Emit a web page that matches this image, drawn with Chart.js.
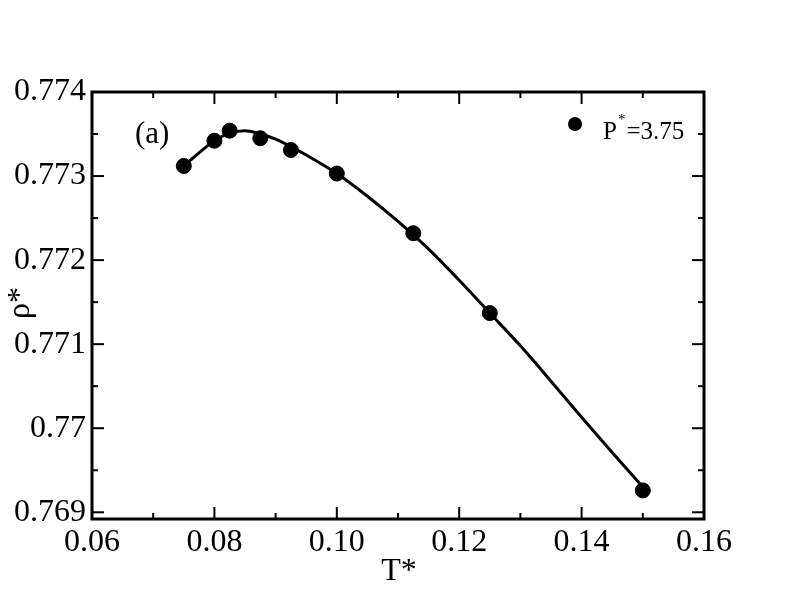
<!DOCTYPE html>
<html><head><meta charset="utf-8">
<script src="https://cdn.jsdelivr.net/npm/chart.js@4/dist/chart.umd.min.js"></script>
<style>html,body{margin:0;padding:0;background:#fff}#wrap{width:792px;height:612px}</style>
</head><body><div id="wrap"><canvas id="c" width="792" height="612"></canvas></div>
<script>
// Simulation points (T*, rho*)
const temperature = [0.075, 0.080, 0.0825, 0.0875, 0.0925, 0.100, 0.1125, 0.125, 0.150];
const density     = [0.77312, 0.77342, 0.77354, 0.77345, 0.77331, 0.77303, 0.77232, 0.77137, 0.76926];
// Fit curve
const fitT   = [0.075, 0.080, 0.0825, 0.085, 0.0875, 0.090, 0.0925, 0.095, 0.100, 0.105, 0.110, 0.115, 0.120, 0.125, 0.130, 0.135, 0.140, 0.145, 0.150];
const fitRho = [0.77312, 0.77342, 0.77351, 0.77354, 0.77350, 0.77344, 0.77335, 0.77325, 0.77303, 0.77276, 0.77246, 0.77213, 0.77176, 0.77137, 0.77098, 0.77056, 0.77013, 0.76971, 0.76930];
// Axes
const xTicks = [0.06, 0.08, 0.10, 0.12, 0.14, 0.16];
const xTickLabels = ["0.06", "0.08", "0.10", "0.12", "0.14", "0.16"];
const xMinor = [0.07, 0.09, 0.11, 0.13, 0.15];
const yTicks = [0.769, 0.770, 0.771, 0.772, 0.773, 0.774];
const yTickLabels = ["0.769", "0.77", "0.771", "0.772", "0.773", "0.774"];
const yMinor = [0.7695, 0.7705, 0.7715, 0.7725, 0.7735];
const xRange = [0.06, 0.16];
const yRange = [0.76892, 0.774];
const seriesLabel = ["P", "*", "=3.75"];
const panelLabel = "(a)";
const xTitle = "T*";
const yTitle = "ρ*";

const SERIF = '"Liberation Serif","DejaVu Serif",serif';

const framePlugin = {
  id: 'frame',
  afterDatasetsDraw(chart) {
    const {ctx, chartArea: a, scales: {x, y}} = chart;
    ctx.save();
    ctx.strokeStyle = '#000';
    ctx.lineWidth = 2;
    const tick = (val, len, axis) => {
      if (axis === 'x') {
        const px = x.getPixelForValue(val);
        ctx.beginPath(); ctx.moveTo(px, a.bottom); ctx.lineTo(px, a.bottom - len); ctx.stroke();
        ctx.beginPath(); ctx.moveTo(px, a.top); ctx.lineTo(px, a.top + len); ctx.stroke();
      } else {
        const py = y.getPixelForValue(val);
        ctx.beginPath(); ctx.moveTo(a.left, py); ctx.lineTo(a.left + len, py); ctx.stroke();
        ctx.beginPath(); ctx.moveTo(a.right, py); ctx.lineTo(a.right - len, py); ctx.stroke();
      }
    };
    xTicks.forEach(v => tick(v, 12, 'x'));
    xMinor.forEach(v => tick(v, 6, 'x'));
    yTicks.forEach(v => tick(v, 12, 'y'));
    yMinor.forEach(v => tick(v, 6, 'y'));
    ctx.lineWidth = 3;
    ctx.strokeRect(a.left, a.top, a.right - a.left, a.bottom - a.top);

    ctx.fillStyle = '#000';
    // panel label
    ctx.font = '31px ' + SERIF;
    ctx.textAlign = 'left'; ctx.textBaseline = 'alphabetic';
    ctx.fillText(panelLabel, 135, 143);
    // legend
    ctx.beginPath(); ctx.arc(575, 124, 7, 0, Math.PI * 2); ctx.fill();
    ctx.font = '25px ' + SERIF;
    ctx.fillText(seriesLabel[0], 603, 139);
    let w = ctx.measureText(seriesLabel[0]).width;
    ctx.font = '15px ' + SERIF;
    ctx.fillText(seriesLabel[1], 603 + w + 1, 124);
    const w2 = ctx.measureText(seriesLabel[1]).width;
    ctx.font = '25px ' + SERIF;
    ctx.fillText(seriesLabel[2], 603 + w + w2 + 2, 139);
    // axis titles
    ctx.font = '32px ' + SERIF;
    ctx.textAlign = 'center';
    ctx.fillText(xTitle, (a.left + a.right) / 2 + 1, 580);
    ctx.save();
    ctx.translate(29, 303);
    ctx.rotate(-Math.PI / 2);
    ctx.fillText(yTitle, 0, 0);
    ctx.restore();
    ctx.restore();
  }
};

new Chart(document.getElementById('c'), {
  type: 'scatter',
  data: {
    datasets: [
      {
        label: 'fit',
        type: 'line',
        data: fitT.map((t, i) => ({x: t, y: fitRho[i]})),
        borderColor: '#000',
        borderWidth: 3,
        pointRadius: 0,
        cubicInterpolationMode: 'monotone',
        fill: false,
        order: 2
      },
      {
        label: seriesLabel.join(''),
        data: temperature.map((t, i) => ({x: t, y: density[i]})),
        backgroundColor: '#000',
        borderColor: '#000',
        pointRadius: 7.5,
        pointHoverRadius: 7.5,
        showLine: false,
        order: 1
      }
    ]
  },
  options: {
    responsive: false,
    animation: false,
    devicePixelRatio: 1,
    layout: {padding: {left: 0, top: 92, right: 88, bottom: 0}},
    plugins: {legend: {display: false}, tooltip: {enabled: false}},
    scales: {
      x: {
        type: 'linear', min: xRange[0], max: xRange[1],
        afterBuildTicks: s => { s.ticks = xTicks.map(v => ({value: v})); },
        afterFit: s => { s.height = 93; },
        grid: {display: false, drawTicks: false},
        border: {display: false},
        ticks: {
          color: '#000', padding: 4, maxRotation: 0, autoSkip: false,
          font: {family: SERIF, size: 32},
          callback: (v) => { const i = xTicks.findIndex(t => Math.abs(t - v) < 1e-9); return i >= 0 ? xTickLabels[i] : ''; }
        }
      },
      y: {
        type: 'linear', min: yRange[0], max: yRange[1],
        afterBuildTicks: s => { s.ticks = yTicks.map(v => ({value: v})); },
        afterFit: s => { s.width = 92; },
        grid: {display: false, drawTicks: false},
        border: {display: false},
        ticks: {
          color: '#000', padding: 6, autoSkip: false,
          font: {family: SERIF, size: 32},
          callback: (v) => { const i = yTicks.findIndex(t => Math.abs(t - v) < 1e-9); return i >= 0 ? yTickLabels[i] : ''; }
        }
      }
    }
  },
  plugins: [framePlugin]
});
</script></body></html>
